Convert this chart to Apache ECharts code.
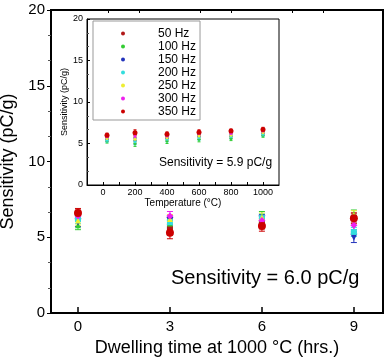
<!DOCTYPE html>
<html><head><meta charset="utf-8">
<script src="https://cdn.jsdelivr.net/npm/echarts@6/dist/echarts.min.js"></script>
<style>html,body{margin:0;padding:0;background:#fff}#c{width:385px;height:359px}</style>
</head><body><div id="c"></div>
<script>
// ---- data ----
const seriesNames = ['50 Hz','100 Hz','150 Hz','200 Hz','250 Hz','300 Hz','350 Hz'];
const seriesColors = ['#b01818','#33cc33','#2233bb','#33dddd','#eeee33','#ee22ee','#cc0000'];
const mainSymbols = ['rect','triangle','triangle','rect','triangle','diamond','circle'];
const mainRotate = [0,0,180,0,0,0,0];
const mainSizes = [6,6,7,6,6,7,8];

// main plot: dwelling time (hrs)
const dwellHours = [0, 3, 6, 9];
const dwell50  = [6.5, 5.5, 5.9, 6.3];
const dwell100 = [5.8, 5.9, 6.35, 6.5];
const dwell150 = [6.0, 6.1, 6.2, 5.0];
const dwell200 = [6.2, 6.0, 6.25, 5.35];
const dwell250 = [6.1, 6.2, 6.3, 6.45];
const dwell300 = [6.4, 6.4, 6.1, 5.8];
const dwell350 = [6.6, 5.3, 5.75, 6.25];
const dwellErr50  = [0.3, 0.35, 0.35, 0.3];
const dwellErr100 = [0.3, 0.3, 0.35, 0.3];
const dwellErr150 = [0.3, 0.3, 0.3, 0.35];
const dwellErr200 = [0.3, 0.3, 0.3, 0.3];
const dwellErr250 = [0.3, 0.3, 0.3, 0.3];
const dwellErr300 = [0.3, 0.3, 0.3, 0.3];
const dwellErr350 = [0.3, 0.4, 0.35, 0.35];
const dwellTicks = [0, 3, 6, 9];
const dwellMinorTicks = [1, 2, 4, 5, 7, 8];

// inset: temperature (°C)
const temps = [25, 200, 400, 600, 800, 1000];
const temp50  = [5.9, 6.1, 6.0, 6.2, 6.4, 6.6];
const temp100 = [5.3, 5.0, 5.3, 5.5, 5.6, 6.0];
const temp150 = [5.5, 5.3, 5.6, 5.8, 5.9, 6.2];
const temp200 = [5.4, 5.2, 5.5, 5.7, 5.8, 6.1];
const temp250 = [5.6, 5.5, 5.7, 5.9, 6.0, 6.3];
const temp300 = [5.8, 5.9, 5.9, 6.2, 6.2, 6.5];
const temp350 = [6.0, 6.3, 6.1, 6.35, 6.5, 6.7];
const tempErr = [0.25, 0.35, 0.3, 0.3, 0.25, 0.25];
const tempTicks = [0, 200, 400, 600, 800, 1000];
const tempMinorTicks = [0, 100, 200, 300, 400, 500, 600, 700, 800, 900, 1000];

const mainVals = [dwell50, dwell100, dwell150, dwell200, dwell250, dwell300, dwell350];
const mainErrs = [dwellErr50, dwellErr100, dwellErr150, dwellErr200, dwellErr250, dwellErr300, dwellErr350];
const insetVals = [temp50, temp100, temp150, temp200, temp250, temp300, temp350];

const FONT = '"Liberation Sans", Arial, sans-serif';

function errSeries(name, xs, ys, es, color, xi, yi, cap) {
  return {
    type: 'custom', name: name, xAxisIndex: xi, yAxisIndex: yi, silent: true, z: 2,
    itemStyle: { color: color },
    encode: { x: 0, y: [1, 2] },
    data: xs.map((x, i) => [x, ys[i] - es[i], ys[i] + es[i]]),
    renderItem: function (params, api) {
      const lo = api.coord([api.value(0), api.value(1)]);
      const hi = api.coord([api.value(0), api.value(2)]);
      const st = { stroke: color, lineWidth: 1 };
      return { type: 'group', children: [
        { type: 'line', shape: { x1: lo[0], y1: lo[1], x2: hi[0], y2: hi[1] }, style: st },
        { type: 'line', shape: { x1: lo[0] - cap, y1: lo[1], x2: lo[0] + cap, y2: lo[1] }, style: st },
        { type: 'line', shape: { x1: hi[0] - cap, y1: hi[1], x2: hi[0] + cap, y2: hi[1] }, style: st }
      ]};
    }
  };
}

const series = [];
seriesNames.forEach((n, k) => {
  series.push({
    type: 'scatter', name: n, xAxisIndex: 2, yAxisIndex: 1, z: 3,
    symbol: 'circle', symbolSize: k === 6 ? 5 : 3,
    itemStyle: { color: seriesColors[k], opacity: 1 },
    data: temps.map((x, i) => [x, insetVals[k][i]])
  });
  series.push(errSeries(n, temps, insetVals[k], tempErr, seriesColors[k], 2, 1, 1.5));
});
seriesNames.forEach((n, k) => {
  series.push(errSeries(n, dwellHours, mainVals[k], mainErrs[k], seriesColors[k], 0, 0, 3));
  series.push({
    type: 'scatter', name: n, xAxisIndex: 0, yAxisIndex: 0, z: 3,
    symbol: mainSymbols[k], symbolRotate: mainRotate[k], symbolSize: mainSizes[k],
    itemStyle: { color: seriesColors[k], opacity: 1 },
    data: dwellHours.map((x, i) => [x, mainVals[k][i]])
  });
});

const chart = echarts.init(document.getElementById('c'), null, { renderer: 'canvas' });
chart.setOption({
  animation: false,
  backgroundColor: '#fff',
  textStyle: { fontFamily: FONT },
  grid: [
    { left: 51, top: 10, right: 2, bottom: 46, show: true, borderColor: '#000', borderWidth: 2, backgroundColor: '#fff',
      containLabel: false, outerBoundsMode: 'none' },
    { left: 87, top: 19, width: 192, height: 166, show: true, borderColor: '#000', borderWidth: 1, backgroundColor: '#fff',
      containLabel: false, outerBoundsMode: 'none' }
  ],
  xAxis: [
    { gridIndex: 0, type: 'value', min: -0.88, max: 9.95,
      name: 'Dwelling time at 1000 °C (hrs.)', nameLocation: 'middle', nameGap: 21,
      nameTextStyle: { fontSize: 18, color: '#000', fontFamily: FONT },
      axisLine: { onZero: false, lineStyle: { color: '#000', width: 2 } },
      axisTick: { inside: true, length: 6, customValues: dwellTicks, lineStyle: { color: '#000', width: 1.5 } },
      axisLabel: { customValues: dwellTicks, fontSize: 15, color: '#000', margin: 6, fontFamily: FONT },
      splitLine: { show: false } },
    { gridIndex: 0, type: 'value', min: -0.88, max: 9.95,
      axisLine: { show: false, onZero: false },
      axisTick: { inside: true, length: 3, customValues: dwellMinorTicks, lineStyle: { color: '#000', width: 1 } },
      axisLabel: { show: false }, splitLine: { show: false } },
    { gridIndex: 1, type: 'value', min: -100, max: 1100,
      name: 'Temperature (°C)', nameLocation: 'middle', nameGap: 12,
      nameTextStyle: { fontSize: 10, color: '#000', fontFamily: FONT },
      axisLine: { onZero: false, lineStyle: { color: '#000', width: 1 } },
      axisTick: { inside: true, length: 3, customValues: tempMinorTicks, lineStyle: { color: '#000' } },
      axisLabel: { customValues: tempTicks, fontSize: 9, color: '#000', margin: 3, fontFamily: FONT,
                   formatter: v => String(v) },
      splitLine: { show: false } }
  ],
  yAxis: [
    { gridIndex: 0, type: 'value', min: 0, max: 20, interval: 5,
      name: 'Sensitivity (pC/g)', nameLocation: 'middle', nameGap: 27,
      nameTextStyle: { fontSize: 18, color: '#000', fontFamily: FONT },
      axisLine: { onZero: false, lineStyle: { color: '#000', width: 2 } },
      axisTick: { inside: false, length: 4, lineStyle: { color: '#000' } },
      minorTick: { show: true, splitNumber: 3, length: 3, lineStyle: { color: '#555' } },
      axisLabel: { fontSize: 15, color: '#000', margin: 6, fontFamily: FONT },
      splitLine: { show: false } },
    { gridIndex: 1, type: 'value', min: 0, max: 20, interval: 5,
      name: 'Sensitivity (pC/g)', nameLocation: 'middle', nameGap: 16,
      nameTextStyle: { fontSize: 9, color: '#000', fontFamily: FONT },
      axisLine: { onZero: false, lineStyle: { color: '#000', width: 1 } },
      axisTick: { inside: true, length: 3, lineStyle: { color: '#000' } },
      minorTick: { show: true, splitNumber: 3, length: 2, lineStyle: { color: '#555' } },
      axisLabel: { fontSize: 9, color: '#000', margin: 4, fontFamily: FONT },
      splitLine: { show: false } }
  ],
  legend: {
    data: seriesNames, icon: 'circle', orient: 'vertical',
    left: 93, top: 21, itemWidth: 4, itemHeight: 4, itemGap: 0,
    padding: [6, 4, 2, 28], borderColor: '#999', borderWidth: 1, backgroundColor: '#fff',
    textStyle: { fontSize: 12, color: '#000', lineHeight: 13, fontFamily: FONT, padding: [0, 0, 0, 28] },
    selectedMode: false, z: 20
  },
  graphic: [
    { type: 'text', left: 171, top: 268, z: 100,
      style: { text: 'Sensitivity = 6.0 pC/g', font: '20px ' + FONT, fill: '#000' } },
    { type: 'text', left: 159, top: 157, z: 100,
      style: { text: 'Sensitivity = 5.9 pC/g', font: '12px ' + FONT, fill: '#000' } }
  ],
  series: series
});
</script></body></html>
